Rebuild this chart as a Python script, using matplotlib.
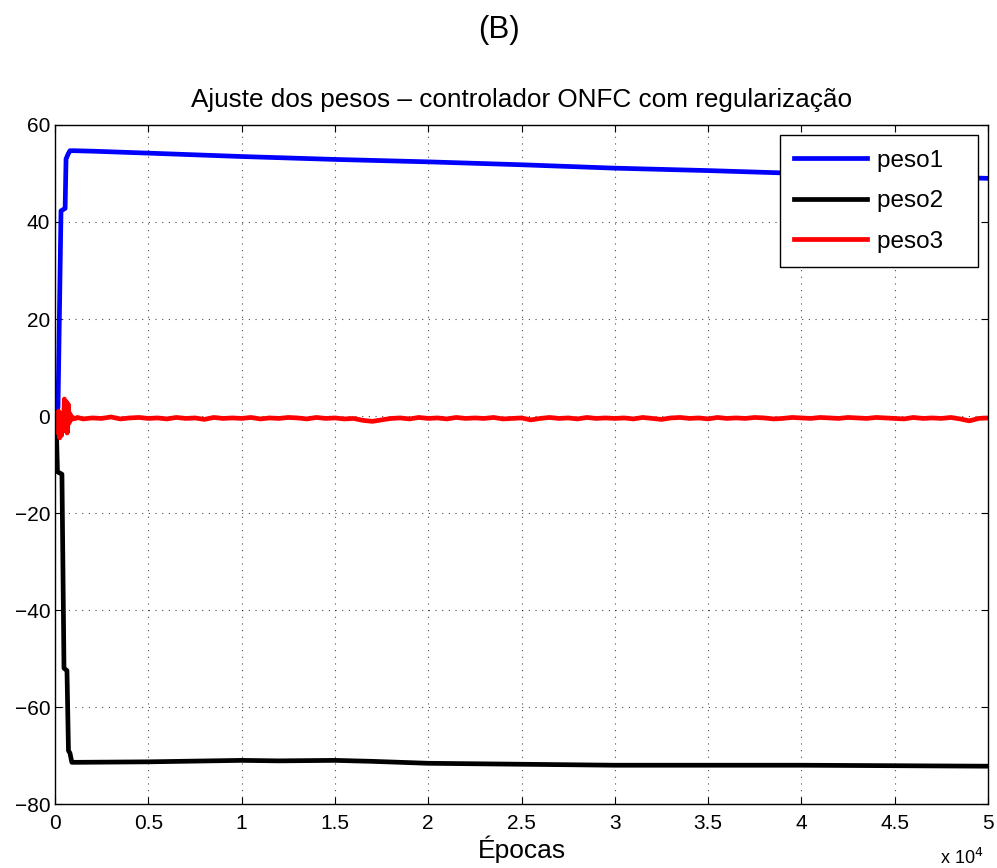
import matplotlib
matplotlib.use("Agg")
import matplotlib.pyplot as plt

# ---- data ----
peso1_x = [0, 100, 160, 320, 540, 590, 700, 800, 1000, 2000, 5000, 10000, 15000,
           20000, 25000, 30000, 35000, 40000, 45000, 50000]
peso1_y = [0, 0.3, 2.0, 42.3, 42.8, 53.0, 54.0, 54.7, 54.7, 54.6, 54.2, 53.5, 52.9,
           52.4, 51.8, 51.1, 50.6, 50.0, 49.5, 49.0]

peso2_x = [0, 60, 130, 370, 480, 640, 720, 800, 900, 1200, 5000, 10000, 12000,
           15000, 17000, 20000, 25000, 30000, 35000, 40000, 45000, 50000]
peso2_y = [0, -1.0, -11.5, -12.0, -52.0, -52.5, -69.0, -69.5, -71.4, -71.4, -71.3,
           -71.0, -71.1, -71.0, -71.2, -71.6, -71.8, -72.0, -72.0, -72.0, -72.1, -72.2]

peso3_x = [0, 50, 100, 150, 200, 250, 300, 350, 400, 450, 500, 550, 600, 650, 700,
           750, 800, 850, 900, 950, 1000, 1100, 1200, 1500, 2000, 2500, 3000, 3500,
           4000, 4500, 5000, 5500, 6000, 6500, 7000, 7500, 8000, 8500, 9000, 9500,
           10000, 10500, 11000, 11500, 12000, 12500, 13000, 13500, 14000, 14500,
           15000, 15500, 16000, 16500, 17000, 17500, 18000, 18500, 19000, 19500,
           20000, 20500, 21000, 21500, 22000, 22500, 23000, 23500, 24000, 24500,
           25000, 25500, 26000, 26500, 27000, 27500, 28000, 28500, 29000, 29500,
           30000, 30500, 31000, 31500, 32000, 32500, 33000, 33500, 34000, 34500,
           35000, 35500, 36000, 36500, 37000, 37500, 38000, 38500, 39000, 39500,
           40000, 40500, 41000, 41500, 42000, 42500, 43000, 43500, 44000, 44500,
           45000, 45500, 46000, 46500, 47000, 47500, 48000, 48500, 49000, 49500, 50000]
peso3_y = [0, 0.8, -1.0, -3.5, 1.0, -4.5, -1.5, -4.0, 0.5, -2.0, 3.5, -3.0, 3.0,
           -3.5, 2.5, -1.5, 0.5, -0.8, -0.2, -0.6, -0.4, -0.5, -0.3, -0.6, -0.4,
           -0.5, -0.2, -0.6, -0.4, -0.3, -0.5, -0.4, -0.6, -0.3, -0.5, -0.4, -0.7,
           -0.3, -0.5, -0.4, -0.5, -0.3, -0.6, -0.4, -0.5, -0.3, -0.4, -0.6, -0.3,
           -0.5, -0.4, -0.6, -0.5, -0.9, -1.1, -0.8, -0.5, -0.4, -0.6, -0.3, -0.5,
           -0.4, -0.6, -0.3, -0.5, -0.4, -0.5, -0.3, -0.6, -0.5, -0.4, -0.8, -0.5,
           -0.3, -0.5, -0.4, -0.6, -0.3, -0.5, -0.4, -0.5, -0.4, -0.6, -0.3, -0.5,
           -0.7, -0.4, -0.3, -0.5, -0.4, -0.6, -0.3, -0.5, -0.4, -0.5, -0.3, -0.4,
           -0.6, -0.5, -0.3, -0.4, -0.5, -0.3, -0.4, -0.5, -0.3, -0.4, -0.5, -0.3,
           -0.4, -0.5, -0.6, -0.3, -0.5, -0.4, -0.5, -0.3, -0.6, -1.0, -0.5, -0.4]

series = [("peso1", peso1_x, peso1_y, "#0000ff"),
          ("peso2", peso2_x, peso2_y, "#000000"),
          ("peso3", peso3_x, peso3_y, "#ff0000")]

x_ticks = [0, 0.5, 1, 1.5, 2, 2.5, 3, 3.5, 4, 4.5, 5]
x_tick_labels = ["0", "0.5", "1", "1.5", "2", "2.5", "3", "3.5", "4", "4.5", "5"]
y_ticks = [-80, -60, -40, -20, 0, 20, 40, 60]
y_tick_labels = ["\u221280", "\u221260", "\u221240", "\u221220", "0", "20", "40", "60"]

plt.rcParams['font.family'] = ['Liberation Sans', 'DejaVu Sans']

fig = plt.figure(figsize=(9.97, 8.68), dpi=100)
ax = fig.add_axes([0.0552, 0.0737, 0.9358, 0.7823])

for name, xs, ys, c in series:
    ax.plot([v / 1e4 for v in xs], ys, color=c, lw=3.4, label=name + "   ",
            solid_joinstyle='round')

ax.set_xlim(0, 5)
ax.set_ylim(-80, 60)
ax.set_xticks(x_ticks)
ax.set_xticklabels(x_tick_labels)
ax.set_yticks(y_ticks)
ax.set_yticklabels(y_tick_labels)
ax.tick_params(direction='in', length=5, width=0.8, labelsize=15, top=True, right=True)
ax.tick_params(axis='x', pad=7)
ax.grid(True, color='black', linestyle=(0, (1, 5)), linewidth=0.8, alpha=0.7)
for s in ax.spines.values():
    s.set_linewidth(1.0)

ax.set_title("Ajuste dos pesos \u2013 controlador ONFC com regularização",
             fontsize=18.8, pad=13)
ax.set_xlabel("Épocas", fontsize=19, labelpad=2)
fig.text(0.5, 0.966, "(B)", ha='center', va='center', fontsize=22.5)
fig.text(0.965, 0.0, "x 10$^{4}$", ha='center', va='bottom', fontsize=13)

leg = ax.legend(loc='upper right', fontsize=17.5, frameon=True, fancybox=False,
                edgecolor='black', framealpha=1, handlelength=3.0,
                borderpad=0.6, labelspacing=0.76, handletextpad=0.4,
                borderaxespad=0, bbox_to_anchor=(0.989, 0.985))
leg.get_frame().set_linewidth(1.0)

fig.savefig("out.png", dpi=100)
